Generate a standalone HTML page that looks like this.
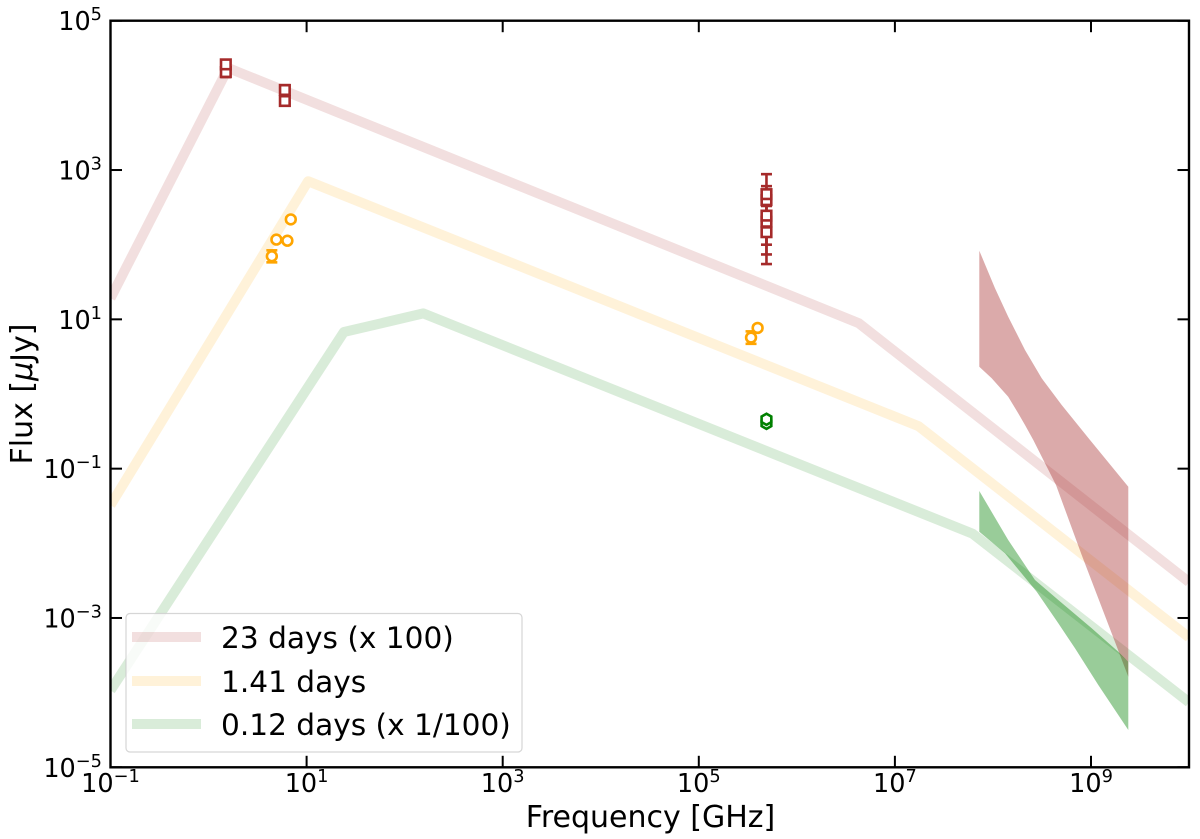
<!DOCTYPE html>
<html lang="en">
<head>
<meta charset="utf-8">
<title>Flux vs Frequency</title>
<style>
html,body{margin:0;padding:0;background:#fff;}
svg{display:block;font-family:"DejaVu Sans","Liberation Sans",sans-serif;}
</style>
</head>
<body>
<svg id="chart" xmlns="http://www.w3.org/2000/svg" width="1200" height="839" viewBox="0 0 1200 839">
  <defs><clipPath id="plot-clip"><rect x="110.5" y="20.7" width="1078.5" height="746.6"/></clipPath></defs>
  <g id="plot" clip-path="url(#plot-clip)"></g>
  <g id="axes"></g>
  <rect x="126" y="613.5" width="396" height="138.5" rx="4" fill="#fff" fill-opacity="0.8" stroke="#ccc" stroke-opacity="0.8" stroke-width="1.2"/>
  <g>
    <line x1="132" x2="201" y1="637" y2="637" stroke="#a52a2a" stroke-opacity="0.15" stroke-width="10"/>
    <text x="221" y="648" font-size="29.6" fill="#000">23 days (x 100)</text>
  </g>
  <g>
    <line x1="132" x2="201" y1="681" y2="681" stroke="#ffa500" stroke-opacity="0.15" stroke-width="10"/>
    <text x="221" y="692" font-size="29.6" fill="#000">1.41 days</text>
  </g>
  <g>
    <line x1="132" x2="201" y1="724" y2="724" stroke="#008000" stroke-opacity="0.15" stroke-width="10"/>
    <text x="221" y="735" font-size="29.6" fill="#000">0.12 days (x 1/100)</text>
  </g>
  <text x="650.5" y="827" font-size="30" text-anchor="middle" fill="#000">Frequency [GHz]</text>
  <text transform="translate(32,394) rotate(-90)" font-size="30" text-anchor="middle" fill="#000">Flux [<tspan font-style="italic">μ</tspan>Jy]</text>
</svg>
<script>
// Tick exponents
const xTickExponents = [-1, 1, 3, 5, 7, 9];
const yTickExponents = [-5, -3, -1, 1, 3, 5];

// Model curves (log10 frequency in GHz, log10 flux in uJy)
const redLineLogFreq = [-1, 0.2, 6.63, 10];
const redLineLogFlux = [1.283, 4.366, 0.95, -2.52];
const orangeLineLogFreq = [-1, 1.015, 7.24, 10];
const orangeLineLogFlux = [-1.49, 2.85, -0.43, -3.26];
const greenLineLogFreq = [-1, 1.38, 2.19, 7.79, 10];
const greenLineLogFlux = [-3.97, 0.83, 1.08, -1.87, -4.13];

// Shaded X-ray bands (log10 values)
const redBandUpperLogFreq = [7.861, 8.021, 8.156, 8.327, 8.497, 8.701, 8.99, 9.38];
const redBandUpperLogFlux = [1.919, 1.416, 1.035, 0.59, 0.21, -0.147, -0.616, -1.242];
const redBandLowerLogFreq = [7.861, 7.987, 8.156, 8.258, 8.327, 8.412, 8.643, 8.905, 9.38];
const redBandLowerLogFlux = [0.366, 0.21, -0.036, -0.259, -0.415, -0.616, -1.219, -2.156, -3.786];
const greenBandUpperLogFreq = [7.861, 8.156, 8.429, 8.666, 9.007, 9.278, 9.38];
const greenBandUpperLogFlux = [-1.299, -1.956, -2.491, -2.759, -3.138, -3.452, -3.586];
const greenBandLowerLogFreq = [7.861, 8.123, 8.446, 8.666, 8.837, 9.074, 9.38];
const greenBandLowerLogFlux = [-1.844, -2.134, -2.648, -3.071, -3.406, -3.898, -4.5];

// Observed points (GHz, uJy); drawn in listed order
const redFreq = [1.5, 1.5, 6, 6, 4.9e5, 4.9e5, 4.9e5, 4.9e5, 4.9e5];
const redFlux = [2.05e4, 2.6e4, 8400, 1.18e4, 147, 203, 245, 395, 475];
const redErrLow = [1.76e4, 2.3e4, 7300, 1.05e4, 100, 74, 55, 258, 262];
const redErrHigh = [2.4e4, 3e4, 9500, 1.37e4, 212, 280, 330, 608, 880];

const orangeFreq = [4.42, 4.92, 6.37, 6.9, 3.41e5, 3.98e5];
const orangeFlux = [70, 117, 113, 218, 5.7, 7.67];
const orangeErrLow = [58, 110, 106, 205, 4.7, 7.2];
const orangeErrHigh = [84, 124, 120, 231, 6.9, 8.2];

const greenFreq = [4.9e5, 4.9e5];
const greenFlux = [0.405, 0.458];

const NS = 'http://www.w3.org/2000/svg';
const X0 = 110.5, XDEC = 98.05, Y0 = 20.7, YDEC = 74.66;
const XR = 1189, YB = 767.3;
function xLog(v) { return X0 + (v + 1) * XDEC; }
function yLog(v) { return Y0 + (5 - v) * YDEC; }
function xVal(v) { return xLog(Math.log10(v)); }
function yVal(v) { return yLog(Math.log10(v)); }
function make(tag, attrs, parent) {
  const el = document.createElementNS(NS, tag);
  for (const k in attrs) el.setAttribute(k, attrs[k]);
  parent.appendChild(el);
  return el;
}
const plot = document.getElementById('plot');
const axes = document.getElementById('axes');

function drawLine(fx, fy, color, name) {
  const pts = fx.map((v, i) => xLog(v).toFixed(1) + ',' + yLog(fy[i]).toFixed(1)).join(' ');
  const el = make('polyline', {points: pts, fill: 'none', stroke: color, 'stroke-opacity': 0.15, 'stroke-width': 10, 'stroke-linejoin': 'round'}, plot);
  
  
}
drawLine(redLineLogFreq, redLineLogFlux, '#a52a2a', 'model-line-23-days');
drawLine(orangeLineLogFreq, orangeLineLogFlux, '#ffa500', 'model-line-1-41-days');
drawLine(greenLineLogFreq, greenLineLogFlux, '#008000', 'model-line-0-12-days');

function drawBand(ux, uy, lx, ly, color, name) {
  const top = ux.map((v, i) => xLog(v).toFixed(1) + ',' + yLog(uy[i]).toFixed(1));
  const bot = lx.map((v, i) => xLog(v).toFixed(1) + ',' + yLog(ly[i]).toFixed(1)).reverse();
  const el = make('polygon', {points: top.concat(bot).join(' '), fill: color, 'fill-opacity': 0.4}, plot);
  
  
}
drawBand(redBandUpperLogFreq, redBandUpperLogFlux, redBandLowerLogFreq, redBandLowerLogFlux, '#a52a2a', 'xray-band-23-days');
drawBand(greenBandUpperLogFreq, greenBandUpperLogFlux, greenBandLowerLogFreq, greenBandLowerLogFlux, '#008000', 'xray-band-0-12-days');

function drawErrors(fx, lo, hi, color, name) {
  fx.forEach((f, i) => {
    const x = xVal(f), yl = yVal(lo[i]), yh = yVal(hi[i]);
    const g = make('g', {stroke: color, 'stroke-width': 2.6, fill: 'none'}, plot);
    
    
    make('line', {x1: x, x2: x, y1: yl, y2: yh}, g);
    make('line', {x1: x - 5.5, x2: x + 5.5, y1: yl, y2: yl}, g);
    make('line', {x1: x - 5.5, x2: x + 5.5, y1: yh, y2: yh}, g);
  });
}
drawErrors(redFreq, redErrLow, redErrHigh, '#a52a2a', 'error-bar-23-days');
drawErrors(orangeFreq, orangeErrLow, orangeErrHigh, '#ffa500', 'error-bar-1-41-days');

redFreq.forEach((f, i) => {
  const el = make('rect', {x: xVal(f) - 4.8, y: yVal(redFlux[i]) - 4.8, width: 9.6, height: 9.6, fill: '#fff', stroke: '#a52a2a', 'stroke-width': 2.6}, plot);
  
  
});
orangeFreq.forEach((f, i) => {
  const el = make('circle', {cx: xVal(f), cy: yVal(orangeFlux[i]), r: 4.9, fill: '#fff', stroke: '#ffa500', 'stroke-width': 2.6}, plot);
  
  
});
greenFreq.forEach((f, i) => {
  const x = xVal(f), y = yVal(greenFlux[i]), r = 5.6, w = r * 0.866;
  const pts = [[x, y - r], [x + w, y - r / 2], [x + w, y + r / 2], [x, y + r], [x - w, y + r / 2], [x - w, y - r / 2]]
    .map(p => p[0].toFixed(1) + ',' + p[1].toFixed(1)).join(' ');
  const el = make('polygon', {points: pts, fill: '#fff', stroke: '#008000', 'stroke-width': 2.6}, plot);
  
  
});

function tickLabel(x, y, anchor, exp, name) {
  const t = make('text', {x: x, y: y, 'text-anchor': anchor, 'font-size': 25.5, fill: '#000'}, axes);
  
  
  const a = make('tspan', {}, t);
  a.textContent = '10';
  const b = make('tspan', {dy: -10, 'font-size': 17.8}, t);
  b.textContent = String(exp).replace('-', '\u2212');
}
xTickExponents.forEach(e => {
  const x = xLog(e);
  const bt = make('line', {x1: x, x2: x, y1: YB, y2: YB - 11.5, stroke: '#000', 'stroke-width': 2}, axes);
  
  
  const tt = make('line', {x1: x, x2: x, y1: Y0, y2: Y0 + 11.5, stroke: '#000', 'stroke-width': 2}, axes);
  
  
  tickLabel(x, 792, 'middle', e, 'x-tick-label');
});
yTickExponents.forEach(e => {
  const y = yLog(e);
  const lt = make('line', {x1: X0, x2: X0 + 11.5, y1: y, y2: y, stroke: '#000', 'stroke-width': 2}, axes);
  
  
  const rt = make('line', {x1: XR, x2: XR - 11.5, y1: y, y2: y, stroke: '#000', 'stroke-width': 2}, axes);
  
  
  tickLabel(102, y + 9.5, 'end', e, 'y-tick-label');
});
const frame = make('rect', {x: X0, y: Y0, width: XR - X0, height: YB - Y0, fill: 'none', stroke: '#000', 'stroke-width': 2.4}, axes);


</script>
</body>
</html>
